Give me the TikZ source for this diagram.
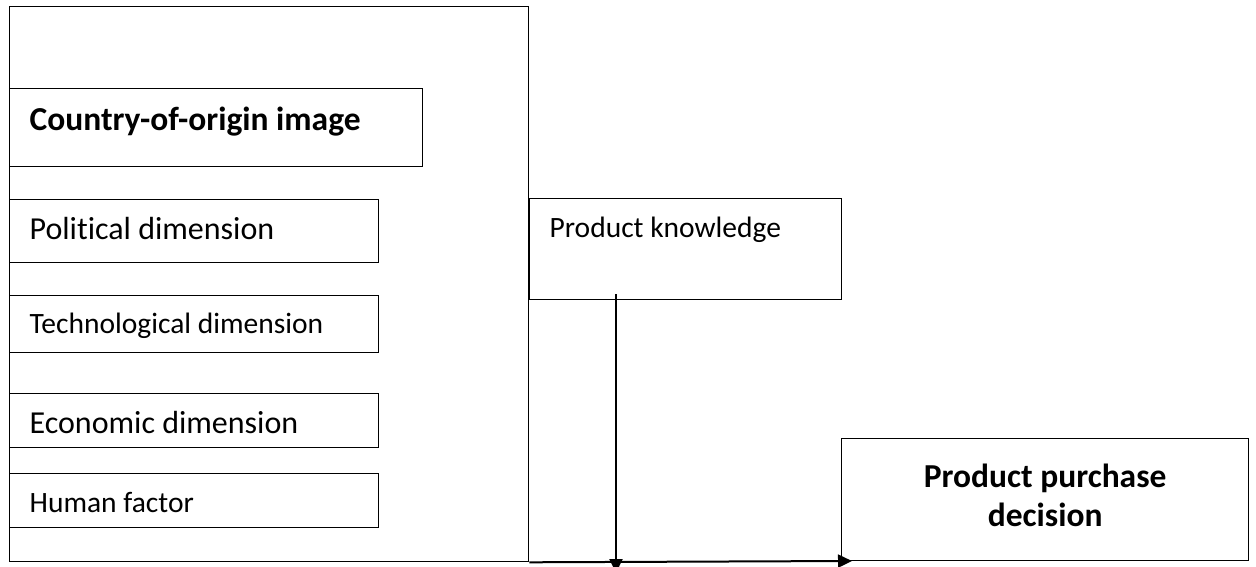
\documentclass[tikz,border=0pt]{standalone}
\usepackage{fontspec}
\setmainfont{Carlito}[Ligatures=CommonOff]
\usetikzlibrary{arrows.meta}
\begin{document}
\begin{tikzpicture}[x=1pt,y=-1pt,
  frame/.style={draw, line width=1.3pt, anchor=north west, inner sep=0pt},
  box/.style={draw, line width=1.3pt, anchor=north west, inner xsep=20pt, inner ysep=0pt, align=flush left},
  lab/.style={font=\fontsize{32}{38}\selectfont},
  labs/.style={font=\fontsize{29.5}{35}\selectfont},
  head/.style={font=\bfseries\fontsize{33.5}{39}\selectfont},
  conn/.style={line width=2pt, -{Triangle[length=14pt,width=13pt]}}]
\useasboundingbox (0,0) rectangle (1256,567);
\node[frame, minimum width=519pt, minimum height=555pt] (outer) at (9,6) {};
\node[box, head, text width=373pt, text height=42pt, text depth=36pt] (coo) at (9,88) {Country-of-origin image};
\node[box, lab, text width=329pt, text height=40pt, text depth=23pt] (pol) at (9,199) {Political dimension};
\node[box, labs, text width=329pt, text height=38pt, text depth=19pt] (tech) at (9,295) {Technological dimension};
\node[box, lab, text width=329pt, text height=40pt, text depth=14pt] (eco) at (9,393) {Economic dimension};
\node[box, labs, text width=329pt, text height=39pt, text depth=15pt] (hum) at (9,473) {Human factor};
\node[box, labs, text width=272pt, text height=39pt, text depth=62pt] (pk) at (529,198) {Product knowledge};
\node[frame, head, minimum width=407pt, minimum height=122pt] (ppd) at (841,438) {\raisebox{8pt}{\begin{tabular}{@{}c@{}}Product purchase\\decision\end{tabular}}};
\coordinate (kstart) at (616,294);
\coordinate (kend) at (616,573);
\coordinate (pend) at (852,561);
\draw[conn] (kstart) -- (kend);
\draw[conn] (outer.south east) -- (pend);
\end{tikzpicture}
\end{document}
